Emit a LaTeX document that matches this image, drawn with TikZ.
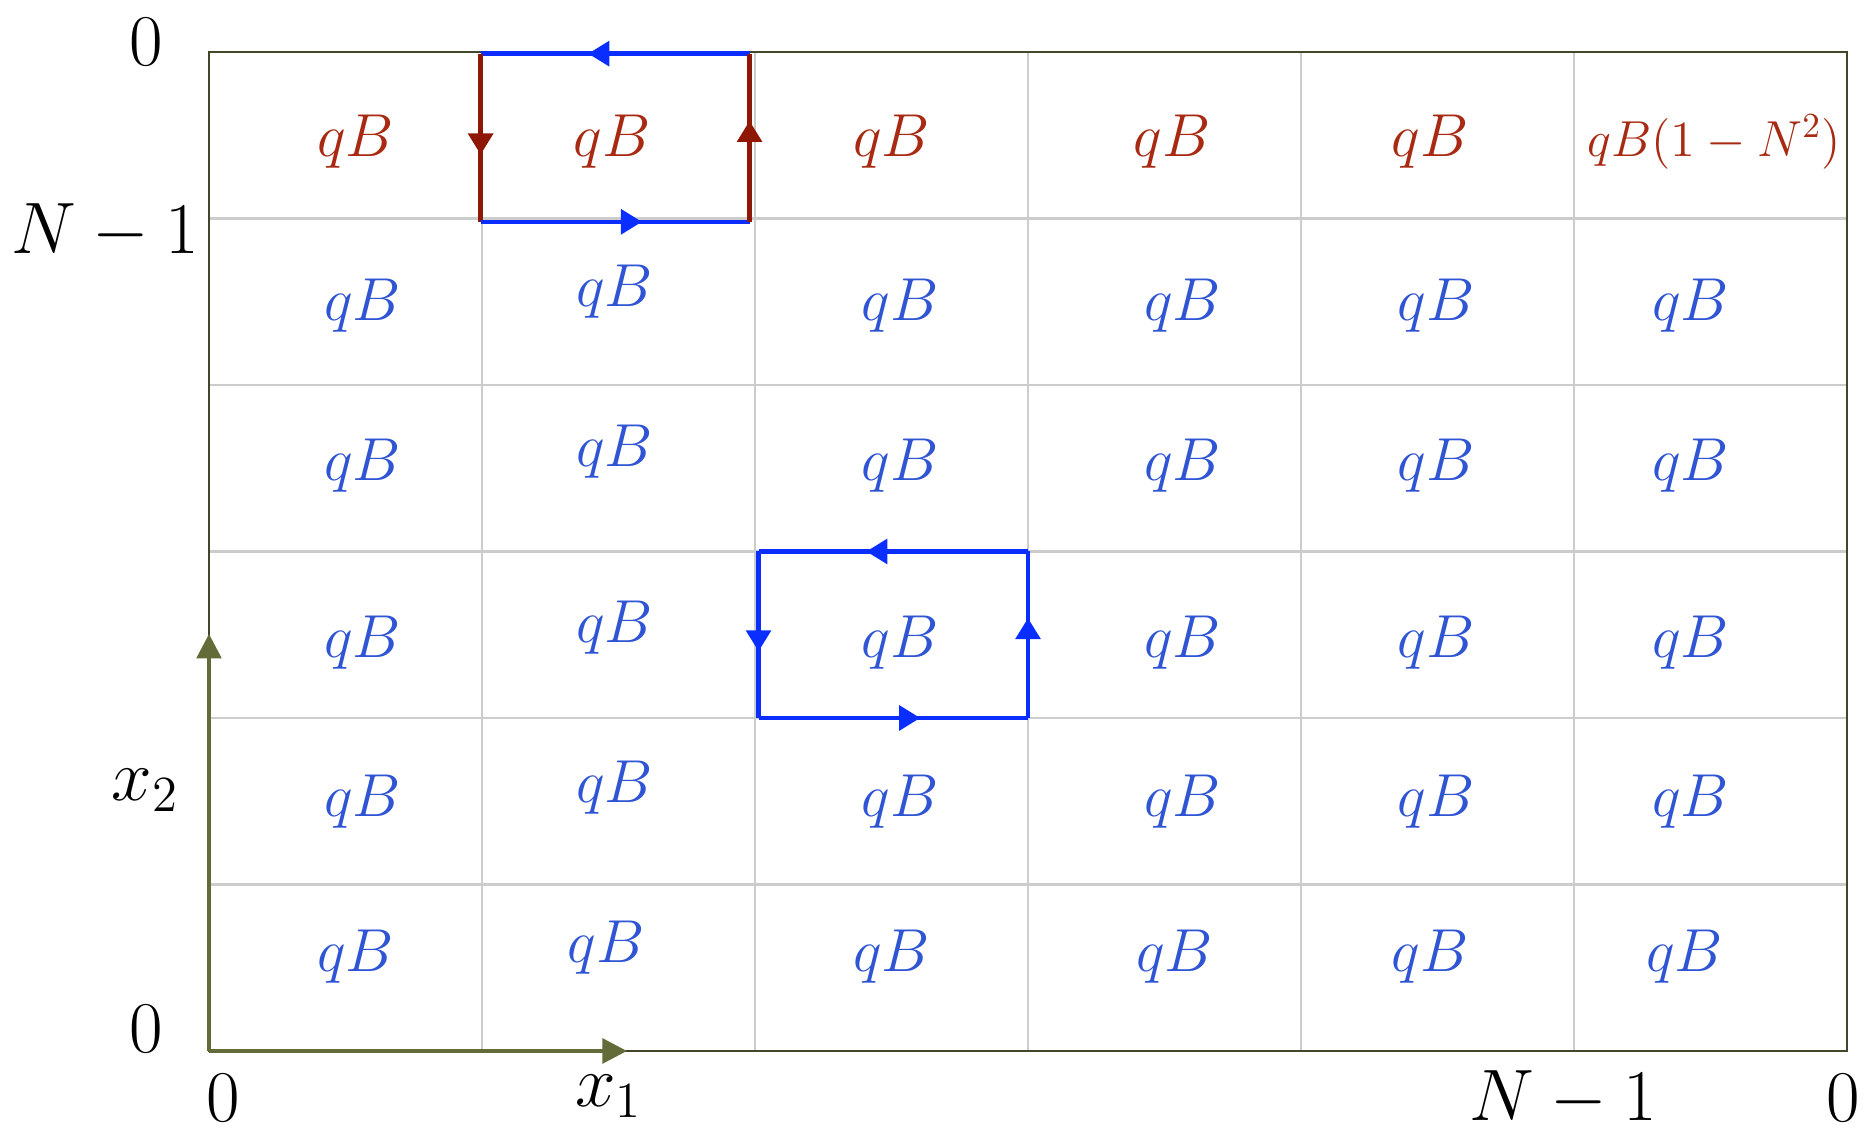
\documentclass[tikz,border=0pt]{standalone}
\usepackage{tikz}
\usetikzlibrary{calc,arrows.meta,decorations.markings}
\usepackage{xcolor}
\usepackage{amsmath}

\definecolor{axisolive}{HTML}{636B38}
\definecolor{frameolive}{HTML}{45452A}
\definecolor{gridgray}{HTML}{CCCCCC}
\definecolor{loopblue}{HTML}{0A2EFF}
\definecolor{loopred}{HTML}{8E1706}
\definecolor{txtblue}{HTML}{2F55D4}
\definecolor{txtred}{HTML}{A82A12}

\tikzset{
  midarr/.style={postaction={decorate},
    decoration={markings,mark=at position 0.6 with {\arrow{Triangle[length=6pt,width=7pt]}}}},
  loopedge/.style={line width=1.25pt,midarr},
  qblue/.style={text=txtblue,font=\LARGE,inner sep=0pt},
  qred/.style={text=txtred,font=\LARGE,inner sep=0pt},
  ticklab/.style={font=\huge,inner sep=0pt},
}

\begin{document}
\begin{tikzpicture}[x=2.73cm,y=1.665cm]
  \useasboundingbox (-0.7656,-0.4925) rectangle (6.0623,6.3123);
  % lattice
  \foreach \i in {1,...,5}{
    \draw[gridgray,line width=0.6pt] (\i,0) -- (\i,6);
    \draw[gridgray,line width=0.6pt] (0,\i) -- (6,\i);
  }
  \draw[frameolive,line width=0.7pt] (0,0) rectangle (6,6);
  % axes
  \coordinate (orig) at (0,0);
  \coordinate (xend) at (1.531,0);
  \coordinate (yend) at (0,2.505);
  \draw[axisolive,line width=1.15pt,-{Triangle[length=7pt,width=7pt]}] (orig) -- (xend);
  \draw[axisolive,line width=1.15pt,-{Triangle[length=7pt,width=7pt]}] (orig) -- (yend);
  % plaquette values, top row
  \foreach \xx [count=\ci] in {0.537,1.477,2.500,3.528,4.473}{
    \node[qred] (qt\ci) at (\xx,5.46) {$qB$};
  }
  \node[qred,font=\Large] (qt6) at (5.514,5.46) {$qB(1-N^2)$};
  % middle rows
  \foreach \yy [count=\ri] in {4.475,3.515,2.455,1.495}{
    \foreach \xx/\dy [count=\ci] in {0.563/0,1.486/0.085,2.531/0,3.567/0,4.495/0,5.427/0}{
      \node[qblue] (q\ri\ci) at ({\xx},{\yy+\dy}) {$qB$};
    }
  }
  % bottom row
  \foreach \xx/\dy [count=\ci] in {0.537/0,1.455/0.057,2.500/0,3.537/0,4.473/0,5.405/0}{
    \node[qblue] (qb\ci) at ({\xx},{0.565+\dy}) {$qB$};
  }
  % loop at the top edge
  \coordinate (rNW) at (0.995,5.99);
  \coordinate (rNE) at (1.980,5.99);
  \coordinate (rSW) at (0.995,4.98);
  \coordinate (rSE) at (1.980,4.98);
  \draw[loopblue,loopedge] (rNE) -- (rNW);
  \draw[loopred,loopedge] (rNW) -- (rSW);
  \draw[loopblue,loopedge] (rSW) -- (rSE);
  \draw[loopred,loopedge] (rSE) -- (rNE);
  % loop in the bulk
  \coordinate (bNW) at (2.013,3);
  \coordinate (bNE) at (3,3);
  \coordinate (bSW) at (2.013,2);
  \coordinate (bSE) at (3,2);
  \draw[loopblue,loopedge] (bNE) -- (bNW);
  \draw[loopblue,loopedge] (bNW) -- (bSW);
  \draw[loopblue,loopedge] (bSW) -- (bSE);
  \draw[loopblue,loopedge] (bSE) -- (bNE);
  % tick labels
  \node[ticklab] (ytop) at (-0.231,6.06) {$0$};
  \node[ticklab] (ynm) at (-0.381,4.919) {$N-1$};
  \node[ticklab] (ylab) at (-0.234,1.568) {$x_2$};
  \node[ticklab] (ybot) at (-0.231,0.132) {$0$};
  \node[ticklab] (xbot) at (0.051,-0.285) {$0$};
  \node[ticklab] (xlab) at (1.465,-0.27) {$x_1$};
  \node[ticklab] (xnm) at (4.960,-0.285) {$N-1$};
  \node[ticklab] (xend0) at (5.985,-0.285) {$0$};
\end{tikzpicture}
\end{document}
